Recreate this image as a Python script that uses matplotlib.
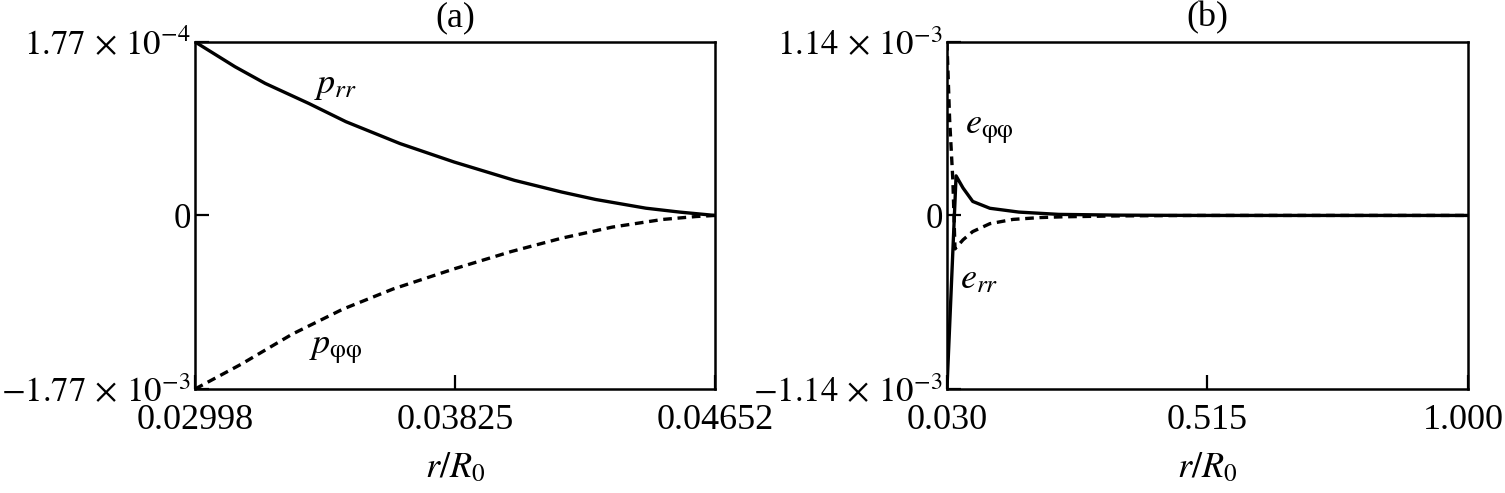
import numpy as np
import matplotlib
matplotlib.use("Agg")
import matplotlib.pyplot as plt
import matplotlib.transforms as mtransforms

plt.rcParams['font.family'] = ['Liberation Serif', 'DejaVu Serif']
plt.rcParams['mathtext.fontset'] = 'stix'

# ---- panel (a) data ----
a_scale_pos = 1.77e-4
a_scale_neg = 1.77e-3
a_xticks = [0.02998, 0.03825, 0.04652]
a_xticklabels = ["0.02998", "0.03825", "0.04652"]
a_yticklabels = [r"$-1.77\,\times\,10^{-3}$", "0", r"$1.77\,\times\,10^{-4}$"]

prr_x = [0.02998, 0.03125, 0.03221, 0.03360, 0.03478, 0.03650, 0.03822,
         0.04014, 0.04164, 0.04272, 0.04432, 0.04540, 0.04652]
prr_y = np.array([1.77, 1.517, 1.347, 1.142, 0.956, 0.733, 0.545,
                  0.358, 0.239, 0.163, 0.074, 0.034, 0.0]) * 1e-4

pff_x = [0.02998, 0.03145, 0.03307, 0.03468, 0.03628, 0.03822,
         0.04004, 0.04164, 0.04325, 0.04485, 0.04592, 0.04652]
pff_y = np.array([-1.77, -1.517, -1.211, -0.956, -0.750, -0.545,
                  -0.368, -0.232, -0.119, -0.041, -0.011, 0.0]) * 1e-3

# ---- panel (b) data ----
b_scale = 1.14e-3
b_xticks = [0.030, 0.515, 1.000]
b_xticklabels = ["0.030", "0.515", "1.000"]
b_yticklabels = [r"$-1.14\,\times\,10^{-3}$", "0", r"$1.14\,\times\,10^{-3}$"]

err_x = [0.030, 0.047, 0.060, 0.078, 0.110, 0.164, 0.238, 0.35, 0.5, 1.0]
err_y = np.array([-1.14, 0.26, 0.18, 0.092, 0.047, 0.022,
                  0.007, 0.002, 0.0, 0.0]) * 1e-3

eff_x = [0.030, 0.035, 0.041, 0.045, 0.060, 0.078, 0.110,
         0.153, 0.203, 0.246, 0.35, 0.5, 1.0]
eff_y = np.array([1.14, 0.63, 0.23, -0.22, -0.16, -0.106, -0.054,
                  -0.026, -0.014, -0.009, -0.003, 0.0, 0.0]) * 1e-3

FS = 26
LW = 2.4
DASH = (2.6, 1.7)

fig = plt.figure(figsize=(15.05, 4.93), dpi=100)
axa = fig.add_axes([0.1296, 0.211, 0.3455, 0.704])
axb = fig.add_axes([0.6292, 0.211, 0.3462, 0.704])

# panel (a): positive values in units of 1.77e-4, negative in 1.77e-3
axa.plot(prr_x, np.array(prr_y) / a_scale_pos, color="black", lw=LW)
axa.plot(pff_x, np.array(pff_y) / a_scale_neg, color="black", lw=LW,
         dashes=DASH)
axa.set_xlim(a_xticks[0], a_xticks[-1])
axa.set_xticks(a_xticks)
axa.set_xticklabels(a_xticklabels)
axa.text(0.229, 0.875, r"$p_{rr}$", transform=axa.transAxes, fontsize=FS,
         ha="left", va="center")
axa.text(0.219, 0.11, r"$p_{\mathrm{φφ}}$", transform=axa.transAxes,
         fontsize=FS, ha="left", va="center")
axa.set_title("(a)", fontsize=FS, pad=11)

# panel (b)
axb.plot(err_x, np.array(err_y) / b_scale, color="black", lw=LW)
axb.plot(eff_x, np.array(eff_y) / b_scale, color="black", lw=LW,
         dashes=DASH)
axb.set_xlim(b_xticks[0], b_xticks[-1])
axb.set_xticks(b_xticks)
axb.set_xticklabels(b_xticklabels)
axb.text(0.035, 0.746, r"$e_{\mathrm{φφ}}$", transform=axb.transAxes,
         fontsize=FS, ha="left", va="center")
axb.text(0.025, 0.314, r"$e_{rr}$", transform=axb.transAxes, fontsize=FS,
         ha="left", va="center")
axb.set_title("(b)", fontsize=FS, pad=11)

for ax, ylab in ((axa, a_yticklabels), (axb, b_yticklabels)):
    ax.set_ylim(-1, 1)
    ax.set_yticks([-1, 0, 1])
    ax.set_yticklabels(ylab)
    ax.tick_params(direction="in", length=10, width=1.6, labelsize=FS,
                   top=False, right=False)
    ax.tick_params(axis="x", pad=11)
    ax.tick_params(axis="y", pad=3, labelsize=25)
    ax.set_xlabel(r"$r/R_0$", fontsize=FS, labelpad=11)
    for s in ax.spines.values():
        s.set_linewidth(1.8)

# nudge the last tick label of (b) so it stays inside the figure
lab = axb.get_xticklabels()[-1]
lab.set_transform(lab.get_transform() +
                  mtransforms.ScaledTranslation(-5 / 100, 0, fig.dpi_scale_trans))

fig.savefig("out.png", dpi=100)
